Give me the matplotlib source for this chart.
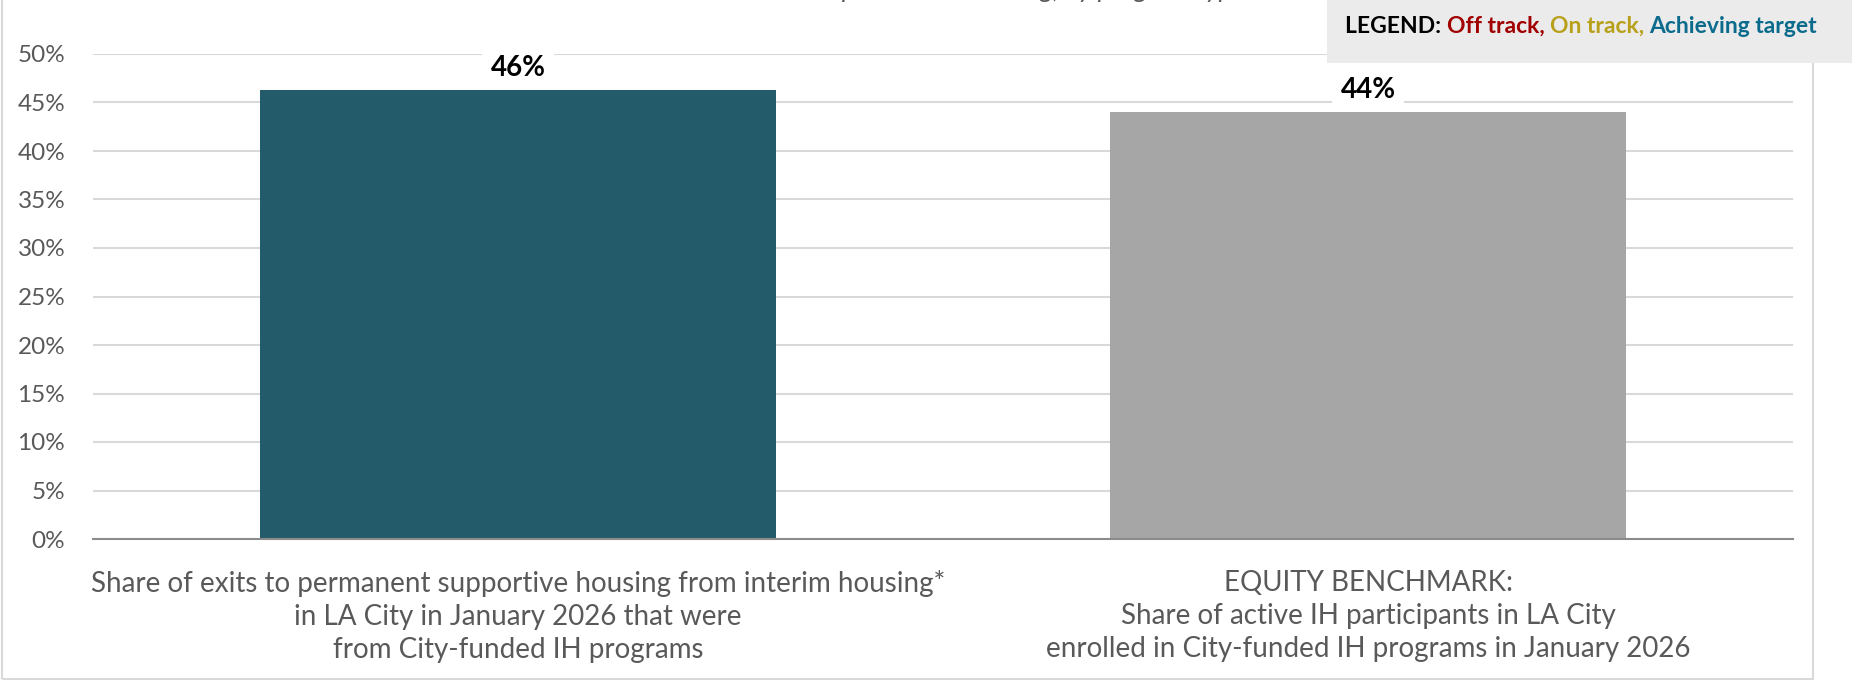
import matplotlib
matplotlib.use("Agg")
import matplotlib.pyplot as plt
from matplotlib.patches import Rectangle

# data
categories = [
    "Share of exits to permanent supportive housing from interim housing*\n"
    "in LA City in January 2026 that were\nfrom City-funded IH programs",
    "EQUITY BENCHMARK:\nShare of active IH participants in LA City\n"
    "enrolled in City-funded IH programs in January 2026",
]
values = [46.3, 44.0]
value_labels = ["46%", "44%"]
bar_colors = ["#245B6A", "#A6A6A6"]
yticks = list(range(0, 55, 5))
legend_parts = [("LEGEND: ", "#000000"), ("Off track, ", "#A00000"),
                ("On track, ", "#B8A01A"), ("Achieving target", "#0B6B8C")]

plt.rcParams['font.family'] = ['Lato', 'DejaVu Sans']
W, H = 1852, 682
fig = plt.figure(figsize=(W/100, H/100), dpi=100)
ax = fig.add_axes([93/W, (H-539)/H, (1793-93)/W, (539-54)/H])

x = list(range(len(categories)))
ax.bar(x, values, width=0.607, color=bar_colors, zorder=2)
ax.set_xlim(-0.5, 1.5)
ax.set_ylim(0, 50)
ax.set_yticks(yticks)
ax.set_yticklabels([f"{v}%" for v in yticks], fontsize=17.5, color="#595959")
ax.set_xticks(x)
ax.set_xticklabels(categories, fontsize=20, color="#595959", linespacing=1.34)
ax.tick_params(axis='y', length=0, pad=20)
ax.tick_params(axis='x', length=0, pad=22)
ax.grid(axis='y', color="#D9D9D9", lw=1.5, zorder=0)
for s in ['top', 'right', 'left']:
    ax.spines[s].set_visible(False)
ax.spines['bottom'].set_color("#8C8C8C")
ax.spines['bottom'].set_linewidth(1.5)
ax.spines['bottom'].set_zorder(3)

for xi, v, lab in zip(x, values, value_labels):
    ax.annotate(lab, (xi, v), xytext=(0, 16), textcoords="offset points",
                ha='center', va='center', fontsize=20, fontweight='bold',
                color='black', zorder=4,
                bbox=dict(boxstyle='square,pad=0.3', fc='white', ec='none'))

# chart border
fig.patches.append(Rectangle((2/W, 3/H), (1813-2)/W, 1, transform=fig.transFigure,
                             fill=False, ec="#D9D9D9", lw=1.5, zorder=0))

# clipped title above the frame
fig.text(1000/W, 1 + 2/H, "Exits to permanent housing, by program type",
         ha='center', va='baseline', fontsize=19, style='italic', color="#595959")

# legend box, coloured words placed one after another
fig.patches.append(Rectangle((1327/W, (H-63)/H), (W-1327)/W, 63/H,
                             transform=fig.transFigure, fc="#EBEBEB", ec='none', zorder=5))
renderer = fig.canvas.get_renderer()
xpos = 1345
for txt, col in legend_parts:
    t = fig.text(xpos/W, (H-33)/H, txt, fontsize=16.5, fontweight='bold',
                 color=col, va='baseline', ha='left', zorder=6)
    xpos = t.get_window_extent(renderer).x1

fig.savefig("out.png", dpi=100)
